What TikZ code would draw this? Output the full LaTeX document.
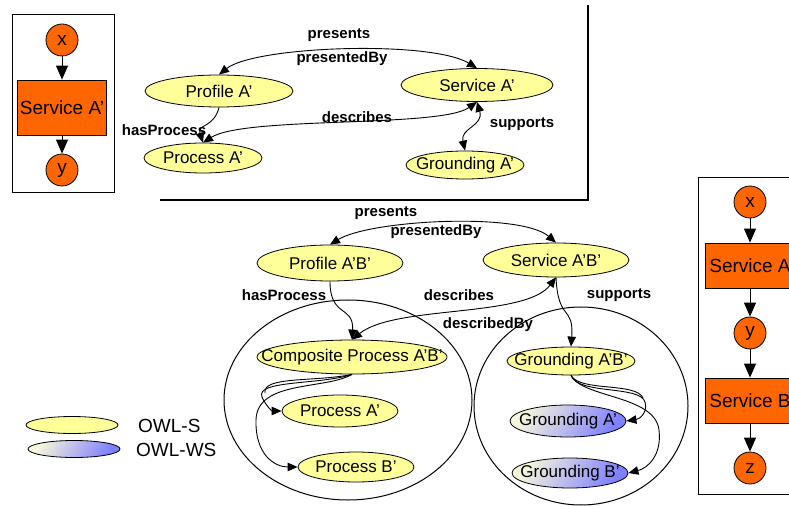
\documentclass[tikz,border=0pt]{standalone}
\usepackage{fontspec}
\setmainfont{Liberation Sans}
\usetikzlibrary{shapes.geometric,arrows.meta}
\definecolor{orng}{HTML}{FF6600}
\definecolor{yel}{HTML}{FFFF99}
\definecolor{paleyel}{HTML}{F6F6DC}
\definecolor{blu}{HTML}{7F7FFF}
\newcommand\zw[1]{\makebox[0pt]{#1}}
\begin{document}
\begin{tikzpicture}[x=1bp,y=-1bp,
  el/.style={ellipse,draw,fill=yel,inner sep=0pt,line width=0.8bp,font=\fontsize{17bp}{19bp}\selectfont},
  wsel/.style={el,left color=paleyel,right color=blu,shading angle=60},
  lbl/.style={font=\bfseries\fontsize{15bp}{17bp}\selectfont,inner sep=0pt},
  leg/.style={font=\fontsize{19bp}{21bp}\selectfont,inner sep=0pt,anchor=west},
  circ/.style={circle,draw,fill=orng,minimum size=32bp,inner sep=0pt,line width=0.8bp,font=\fontsize{19bp}{21bp}\selectfont},
  svc/.style={rectangle,draw,fill=orng,minimum width=89bp,inner sep=0pt,line width=0.8bp,font=\fontsize{19bp}{21bp}\selectfont},
  frame/.style={draw,line width=1bp},
  big/.style={ellipse,draw,line width=1bp,inner sep=0pt},
  rel/.style={line width=0.9bp,-{Triangle[length=10bp,width=8.5bp]}},
  bi/.style={line width=0.9bp,{Triangle[length=10bp,width=8.5bp]}-{Triangle[length=10bp,width=8.5bp]}},
  plain/.style={line width=0.9bp},
  flow/.style={line width=1bp,-{Triangle[length=14bp,width=12bp]}}]
\useasboundingbox (0,0) rectangle (789,506);
\clip (0,0) rectangle (789,506);

% ---------- left box ----------
\draw[frame] (12,15) rectangle (114,193);
\node[circ] (lx) at (62,40) {x};
\node[svc,minimum height=55bp] (lsA) at (62,107.5) {Service A’};
\node[circ] (ly) at (62,170) {y};
\draw[flow] (lx) -- (lsA);
\draw[flow] (lsA) -- (ly);

% ---------- right box ----------
\draw[frame] (698,178) rectangle (802,494);
\node[circ] (rx) at (750,202) {x};
\node[svc,minimum height=45bp] (rsA) at (750,265.5) {Service A};
\node[circ] (ry) at (750,333) {y};
\node[svc,minimum height=45bp] (rsB) at (750,400.5) {Service B};
\node[circ] (rz) at (750,468) {z};
\draw[flow] (rx) -- (rsA);
\draw[flow] (rsA) -- (ry);
\draw[flow] (ry) -- (rsB);
\draw[flow] (rsB) -- (rz);

% ---------- top frame lines ----------
\coordinate (fa) at (160,200);
\coordinate (fb) at (588,200);
\coordinate (fc) at (588,5);
\draw[line width=1.3bp] (fa) -- (fb) -- (fc);

% ---------- top diagram ----------
\node[el,minimum width=148bp,minimum height=32bp] (pA) at (219,91) {\zw{Profile A’}};
\node[el,minimum width=152bp,minimum height=33bp] (sA) at (477,85) {\zw{Service A’}};
\node[el,minimum width=118bp,minimum height=30bp] (prA) at (203,158) {\zw{Process A’}};
\node[el,minimum width=118bp,minimum height=28bp] (gA) at (465,165) {\zw{Grounding A’}};

\draw[bi] (pA.north) .. controls (255,46) and (430,40) .. (sA.north);
\draw[rel] (pA.south) .. controls (214,128) and (197,124) .. (prA.north);
\draw[bi] (prA.north) .. controls (245,116) and (440,128) .. (sA.south);
\draw[bi] (sA.south) .. controls (484,126) and (460,128) .. (gA.north);

\node[lbl] (tpres) at (339,35) {presents};
\node[lbl] (tpresby) at (342,59) {presentedBy};
\node[lbl] (tdesc) at (357,117) {describes};
\node[lbl] (thas) at (164,130) {hasProcess};
\node[lbl] (tsup) at (522,124) {supports};

% ---------- bottom diagram ----------
\node[big,minimum width=248bp,minimum height=200bp] (lc) at (348,400) {};
\node[big,minimum width=214bp,minimum height=198bp] (rc) at (581,406) {};

\node[el,minimum width=146bp,minimum height=36bp] (pAB) at (330,263) {\zw{Profile A’B’}};
\node[el,minimum width=146bp,minimum height=34bp] (sAB) at (556,260) {\zw{Service A’B’}};
\node[el,minimum width=190bp,minimum height=34bp] (cp) at (352,357) {\zw{Composite Process A’B’}};
\node[el,minimum width=116bp,minimum height=32bp] (prA2) at (340,411) {\zw{Process A’}};
\node[el,minimum width=116bp,minimum height=30bp] (prB2) at (356,467) {\zw{Process B’}};
\node[el,minimum width=128bp,minimum height=28bp] (gAB) at (571,361) {\zw{Grounding A’B’}};
\node[wsel,minimum width=116bp,minimum height=32bp] (gA2) at (568,421) {\zw{Grounding A’}};
\node[wsel,minimum width=116bp,minimum height=30bp] (gB2) at (570,473) {\zw{Grounding B’}};

\draw[bi] (pAB.north) .. controls (370,220) and (520,212) .. (sAB.north);
\draw[rel] (pAB.south) .. controls (330,318) and (354,305) .. (cp.north);
\draw[bi] (cp.north) .. controls (395,305) and (525,318) .. (sAB.south);
\draw[rel] (sAB.south) .. controls (558,322) and (574,305) .. (gAB.north);

\draw[rel] (cp.south) .. controls (320,385) and (255,380) .. (262,397) .. controls (266,406) and (272,411) .. (prA2.west);
\draw[plain] (cp.south) .. controls (316,382) and (262,376) .. (265,393);
\draw[rel] (cp.south) .. controls (325,390) and (257,380) .. (256,420) .. controls (255,455) and (275,467) .. (prB2.west);

\draw[rel] (gAB.south) .. controls (578,395) and (640,385) .. (645,402) .. controls (648,412) and (640,419) .. (gA2.east);
\draw[plain] (gAB.south) .. controls (580,392) and (636,382) .. (643,398);
\draw[rel] (gAB.south) .. controls (582,398) and (655,395) .. (659,430) .. controls (662,455) and (648,468) .. (gB2.east);

\node[lbl] (bpres) at (386,213) {presents};
\node[lbl] (bpresby) at (436,232) {presentedBy};
\node[lbl] (bhas) at (284,295) {hasProcess};
\node[lbl] (bdesc) at (459,295) {describes};
\node[lbl] (bsup) at (619,295) {supports};
\node[lbl] (bdescby) at (488,325) {describedBy};

% ---------- legend ----------
\node[el,minimum width=92bp,minimum height=17bp] (lgS) at (72,425) {};
\node[wsel,minimum width=92bp,minimum height=17bp] (lgW) at (74,449) {};
\node[leg] (lgSt) at (138,426) {OWL-S};
\node[leg] (lgWt) at (136,450) {OWL-WS};
\end{tikzpicture}
\end{document}
